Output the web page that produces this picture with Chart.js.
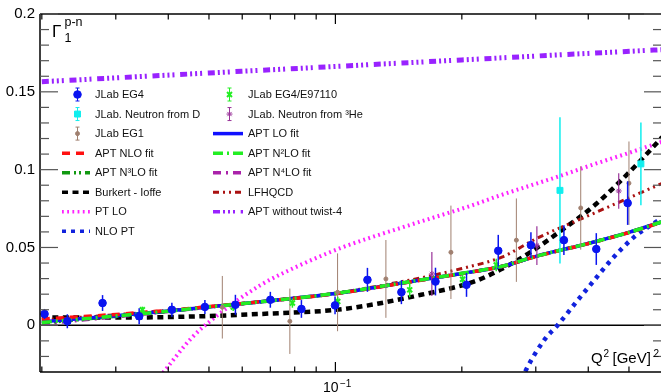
<!DOCTYPE html>
<html>
<head>
<meta charset="utf-8">
<script src="https://cdn.jsdelivr.net/npm/chart.js@4.4.0/dist/chart.umd.min.js"></script>
<style>body{margin:0;background:#fff}</style>
</head>
<body>
<canvas id="chart" width="667" height="392"></canvas>
<script>
// ---- data (Q^2 in GeV^2, Gamma_1^{p-n}) ----
const eg4Q   = [0.0203,0.0230,0.0279,0.0341,0.0408,0.0489,0.0578,0.0700,0.0830,0.0998,0.1192,0.1436,0.1731,0.2052,0.2442,0.2921,0.3500,0.4180,0.4964];
const eg4G   = [0.0073,0.0026,0.0143,0.0058,0.0100,0.0118,0.0132,0.0164,0.0105,0.0128,0.0292,0.0213,0.0281,0.0260,0.0479,0.0515,0.0547,0.0490,0.0785];
const eg4Err = [0.0032,0.0045,0.0051,0.0051,0.0045,0.0045,0.0064,0.0051,0.0057,0.0057,0.0077,0.0077,0.0089,0.0077,0.0102,0.0083,0.0096,0.0102,0.0140];

const e97Q   = [0.0347,0.0571,0.0790,0.1013,0.1503,0.2008,0.2415];
const e97G   = [0.0100,0.0117,0.0143,0.0153,0.0228,0.0296,0.0388];
const e97Err = [0.0020,0.0025,0.0030,0.0030,0.0048,0.0045,0.0040];

const eg1Q   = [0.0538,0.0779,0.1012,0.1319,0.1884,0.2697,0.3838,0.5000];
const eg1G   = [0.0116,0.0026,0.0212,0.0298,0.0469,0.0547,0.0754,0.0913];
const eg1Err = [0.0201,0.0210,0.0250,0.0250,0.0300,0.0268,0.0268,0.0268];

const neuDQ   = [0.3425,0.5338];
const neuDG   = [0.0867,0.1037];
const neuDErr = [0.0470,0.0266];

const he3Q   = [0.1697,0.3018,0.4727];
const he3G   = [0.0330,0.0512,0.0863];
const he3Err = [0.0141,0.0125,0.0114];

const fitQ    = [0.02,0.03,0.04,0.05,0.07,0.1,0.15,0.2,0.25,0.3,0.4,0.5,0.6];
const aptLO   = [0.0022,0.0062,0.0092,0.0118,0.0158,0.0204,0.0279,0.0333,0.0379,0.0443,0.0526,0.0597,0.0666];
const aptNLO  = [0.0040,0.0070,0.0096,0.0120,0.0158,0.0203,0.0278,0.0332,0.0379,0.0442,0.0525,0.0596,0.0664];
const aptN2LO = [0.0018,0.0060,0.0091,0.0118,0.0158,0.0205,0.0280,0.0334,0.0380,0.0443,0.0526,0.0597,0.0666];
const aptN3LO = [0.0015,0.0058,0.0090,0.0117,0.0157,0.0204,0.0279,0.0333,0.0379,0.0443,0.0526,0.0597,0.0666];
const aptN4LO = [0.0008,0.0055,0.0089,0.0117,0.0157,0.0204,0.0279,0.0333,0.0379,0.0443,0.0526,0.0597,0.0666];
const lfhqcd  = [0.0035,0.0068,0.0096,0.0120,0.0160,0.0207,0.0290,0.0365,0.0440,0.0555,0.0704,0.0819,0.0912];

const burkertQ = [0.02,0.03,0.042,0.0665,0.1047,0.16,0.2138,0.2472,0.2884,0.3458,0.414,0.4964,0.5843,0.6];
const burkert  = [0.0050,0.0050,0.0054,0.0073,0.0105,0.0196,0.0281,0.0358,0.0462,0.0611,0.0771,0.0973,0.1175,0.1210];

const ptloQ = [0.0375,0.039,0.0455,0.0526,0.0665,0.0842,0.1047,0.149,0.2138,0.245,0.3458,0.414,0.4964,0.6];
const ptlo  = [-0.0356,-0.030,-0.008,0.0068,0.026,0.0398,0.0504,0.0641,0.0775,0.0832,0.0963,0.1036,0.1105,0.1180];

const nloptQ = [0.278,0.2833,0.3157,0.3365,0.3783,0.414,0.4536,0.5148,0.5636,0.6];
const nlopt  = [-0.035,-0.0296,-0.0087,-0.0006,0.0164,0.0292,0.0420,0.0568,0.0643,0.0690];

const twist4Q = [0.02,0.05,0.1,0.2,0.4,0.6];
const twist4  = [0.1565,0.1621,0.1663,0.1705,0.1747,0.1771];

// axis ticks
const yLabelTicks = [0, 0.05, 0.1, 0.15, 0.2];
const yMinorTicks = [-0.02,-0.01,0.01,0.02,0.03,0.04,0.06,0.07,0.08,0.09,0.11,0.12,0.13,0.14,0.16,0.17,0.18,0.19];
const xMajorTicks = [0.1];
const xMinorTicks = [0.02,0.03,0.04,0.05,0.06,0.07,0.08,0.09,0.2,0.3,0.4,0.5];

const legendRows = [
    ["JLab EG4", "JLab EG4/E97110"],
    ["JLab. Neutron from D", "JLab. Neutron from \u00b3He"],
    ["JLab EG1", "APT LO fit"],
    ["APT NLO fit", "APT N\u00b2LO fit"],
    ["APT N\u00b3LO fit", "APT N\u2074LO fit"],
    ["Burkert - Ioffe", "LFHQCD"],
    ["PT LO", "APT without twist-4"],
    ["NLO PT", null]
];

const FONT = '"Liberation Sans", Arial, Helvetica, sans-serif';

function pts(qs, vs) {
    return qs.map((q, i) => ({x: q, y: vs[i]}));
}

function curve(label, qs, vs, color, width, dash, order) {
    return {
        label: label, data: pts(qs, vs), borderColor: color, backgroundColor: color,
        borderWidth: width, borderDash: dash, pointRadius: 0, fill: false,
        cubicInterpolationMode: 'monotone', order: order
    };
}

function points(label, qs, vs, errs, color, style, radius, errWidth) {
    return {
        label: label, data: pts(qs, vs), errors: errs, showLine: false,
        pointStyle: style, pointRadius: radius, pointBorderWidth: style === 'crossRot' ? 2 : 1,
        pointBackgroundColor: color, pointBorderColor: color,
        borderColor: color, backgroundColor: color, errWidth: errWidth, order: 0
    };
}

const datasets = [
    points("JLab EG4", eg4Q, eg4G, eg4Err, '#0a14f0', 'circle', 3.8, 1.5),
    points("JLab EG4/E97110", e97Q, e97G, e97Err, '#22ee22', 'crossRot', 3.5, 1.5),
    points("JLab. Neutron from D", neuDQ, neuDG, neuDErr, '#11eeee', 'rect', 4.2, 1.5),
    points("JLab. Neutron from \u00b3He", he3Q, he3G, he3Err, '#993399', 'star', 3, 1.2),
    points("JLab EG1", eg1Q, eg1G, eg1Err, '#a08070', 'circle', 2, 1),
    curve("APT N\u00b2LO fit", fitQ, aptN2LO, '#22ee22', 3.5, [10, 4, 2, 4], 1),
    curve("APT NLO fit", fitQ, aptNLO, '#ff1010', 3.5, [8, 6], 2),
    curve("APT LO fit", fitQ, aptLO, '#1010ff', 3.5, [], 3),
    curve("APT N\u00b3LO fit", fitQ, aptN3LO, '#119911', 3.5, [8, 4, 2, 3, 2, 4], 4),
    curve("APT N\u2074LO fit", fitQ, aptN4LO, '#aa22aa', 3.5, [8, 5, 2, 5], 5),
    curve("LFHQCD", fitQ, lfhqcd, '#aa1111', 3, [6, 4, 2, 4, 2, 4], 6),
    curve("Burkert - Ioffe", burkertQ, burkert, '#000000', 4.5, [6, 4.5], 7),
    curve("PT LO", ptloQ, ptlo, '#ff22ff', 4, [1.8, 3.4], 8),
    curve("NLO PT", nloptQ, nlopt, '#1122dd', 4.5, [4, 5], 9),
    curve("APT without twist-4", twist4Q, twist4, '#9922ff', 5, [7, 3, 2, 3, 2, 3, 2, 5.7], 10)
];

function line(ctx, x1, y1, x2, y2) {
    ctx.beginPath();
    ctx.moveTo(x1, y1);
    ctx.lineTo(x2, y2);
    ctx.stroke();
}

// vertical error bars, drawn under each marker set
const errorBars = {
    id: 'errorBars',
    beforeDatasetDraw(chart, args) {
        const ds = chart.data.datasets[args.index];
        if (!ds.errors) return;
        const ctx = chart.ctx, a = chart.chartArea, ys = chart.scales.y;
        ctx.save();
        ctx.beginPath();
        ctx.rect(a.left, a.top, a.right - a.left, a.bottom - a.top);
        ctx.clip();
        ctx.strokeStyle = ds.pointBorderColor;
        ctx.lineWidth = ds.errWidth;
        args.meta.data.forEach((el, i) => {
            const v = ds.data[i].y, e = ds.errors[i];
            line(ctx, el.x, ys.getPixelForValue(v - e), el.x, ys.getPixelForValue(v + e));
        });
        ctx.restore();
    }
};

const frame = {
    id: 'frame',
    beforeDatasetsDraw(chart) {
        const ctx = chart.ctx, a = chart.chartArea, ys = chart.scales.y;
        ctx.save();
        ctx.strokeStyle = '#000';
        ctx.lineWidth = 1.5;
        const y0 = ys.getPixelForValue(0);
        line(ctx, a.left, y0, a.right, y0);
        ctx.restore();
    },
    afterDraw(chart) {
        const ctx = chart.ctx, a = chart.chartArea, xs = chart.scales.x, ys = chart.scales.y;
        ctx.save();
        ctx.strokeStyle = '#000';
        ctx.lineWidth = 1.5;
        line(ctx, a.left, a.top, a.right, a.top);
        line(ctx, a.left, a.bottom, a.right, a.bottom);
        line(ctx, a.left, a.top, a.left, a.bottom);
        ctx.lineWidth = 1.2;
        ctx.strokeStyle = '#555';
        yLabelTicks.forEach(v => {
            const y = ys.getPixelForValue(v);
            line(ctx, a.left, y, a.left + 18, y);
            line(ctx, a.right, y, a.right - 17, y);
        });
        yMinorTicks.forEach(v => {
            const y = ys.getPixelForValue(v);
            line(ctx, a.left, y, a.left + 9, y);
            line(ctx, a.right, y, a.right - 8, y);
        });
        ctx.strokeStyle = '#000';
        xMajorTicks.forEach(v => {
            const x = xs.getPixelForValue(v);
            line(ctx, x, a.bottom, x, a.bottom - 10);
            line(ctx, x, a.top, x, a.top + 10);
        });
        xMinorTicks.forEach(v => {
            const x = xs.getPixelForValue(v);
            line(ctx, x, a.bottom, x, a.bottom - 5.5);
            line(ctx, x, a.top, x, a.top + 5.5);
        });

        // texts
        ctx.fillStyle = '#000';
        ctx.textBaseline = 'alphabetic';
        ctx.textAlign = 'left';
        ctx.font = '17px ' + FONT;
        ctx.fillText('\u0393', 52, 37);
        ctx.font = '12.5px ' + FONT;
        ctx.fillText('p-n', 64.5, 26);
        ctx.fillText('1', 64.5, 41.7);

        // x tick label 10^-1
        const xt = xs.getPixelForValue(0.1);
        ctx.font = '14px ' + FONT;
        ctx.fillText('10', xt - 12.5, 391.5);
        ctx.font = '10px ' + FONT;
        ctx.fillText('\u22121', xt + 4.5, 387);

        // x axis title
        ctx.font = '15px ' + FONT;
        ctx.fillText('Q', 591, 362.5);
        ctx.fillText('[GeV]', 612.5, 362.5);
        ctx.font = '10px ' + FONT;
        ctx.fillText('2', 603.5, 357);
        ctx.fillText('2', 653.5, 357);

        // legend
        legendRows.forEach((row, r) => {
            const y = 94.5 + r * 19.55;
            row.forEach((label, c) => {
                if (!label) return;
                const ds = chart.data.datasets.find(d => d.label === label);
                const x0 = c === 0 ? 62 : 213, x1 = c === 0 ? 90 : 243, tx = c === 0 ? 95 : 248;
                const xm = (x0 + x1) / 2 + 1.5;
                if (ds.errors) {
                    ctx.strokeStyle = ds.pointBorderColor;
                    ctx.fillStyle = ds.pointBackgroundColor;
                    ctx.lineWidth = 1;
                    ctx.setLineDash([]);
                    line(ctx, xm, y - 6.5, xm, y + 6.5);
                    line(ctx, xm - 2, y - 6.5, xm + 2, y - 6.5);
                    line(ctx, xm - 2, y + 6.5, xm + 2, y + 6.5);
                    ctx.lineWidth = ds.pointBorderWidth;
                    Chart.helpers.drawPoint(ctx, {pointStyle: ds.pointStyle, radius: ds.pointRadius, borderWidth: ds.pointBorderWidth, rotation: 0}, xm, y);
                } else {
                    ctx.strokeStyle = ds.borderColor;
                    ctx.lineWidth = Math.min(ds.borderWidth, 3.5);
                    ctx.setLineDash(ds.borderDash);
                    line(ctx, x0, y, x1, y);
                    ctx.setLineDash([]);
                }
                ctx.fillStyle = '#111';
                ctx.font = '11px ' + FONT;
                ctx.textBaseline = 'middle';
                ctx.fillText(label, tx, y + 0.5);
                ctx.textBaseline = 'alphabetic';
            });
        });
        ctx.restore();
    }
};

new Chart(document.getElementById('chart'), {
    type: 'line',
    data: {datasets: datasets},
    options: {
        responsive: false,
        animation: false,
        layout: {padding: {top: 14, right: 0, left: 0, bottom: 0}},
        plugins: {legend: {display: false}, tooltip: {enabled: false}},
        scales: {
            x: {
                type: 'logarithmic', min: 0.0198, max: 0.596,
                grid: {display: false}, border: {display: false},
                ticks: {display: false},
                afterFit(scale) { scale.height = 20; }
            },
            y: {
                type: 'linear', min: -0.03, max: 0.2,
                grid: {display: false, drawTicks: false}, border: {display: false},
                afterBuildTicks(scale) { scale.ticks = yLabelTicks.map(v => ({value: v})); },
                ticks: {
                    padding: 5, color: '#000',
                    font: {family: FONT, size: 15},
                    callback: v => v === 0 ? '0' : String(v)
                },
                afterFit(scale) { scale.width = 40; }
            }
        }
    },
    plugins: [errorBars, frame]
});
</script>
</body>
</html>
